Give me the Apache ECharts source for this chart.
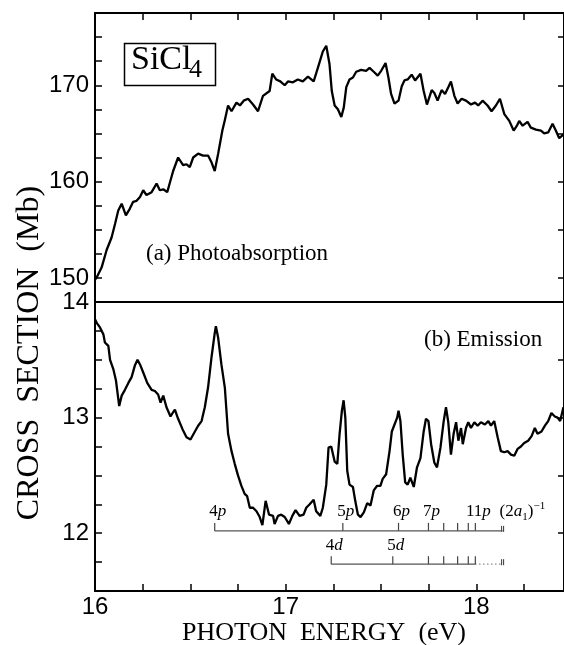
<!DOCTYPE html>
<html>
<head>
<meta charset="utf-8">
<script src="https://cdn.jsdelivr.net/npm/echarts@6/dist/echarts.min.js"></script>
<style>
  html, body { margin: 0; padding: 0; background: #fff; }
  #chart { width: 564px; height: 645px; }
</style>
</head>
<body>
<div id="chart"></div>
<script>
// ---------------- DATA ----------------
// (a) Photoabsorption: photon energy (eV) and cross section (Mb)
const absEnergy = [16.0,16.01,16.035,16.061,16.087,16.105,16.122,16.14,16.162,16.183,16.2,16.218,16.236,16.253,16.27,16.297,16.323,16.34,16.358,16.379,16.393,16.41,16.436,16.462,16.48,16.497,16.515,16.541,16.567,16.593,16.611,16.628,16.646,16.668,16.68,16.698,16.716,16.742,16.76,16.78,16.803,16.829,16.855,16.881,16.916,16.93,16.95,16.972,16.995,17.012,17.038,17.064,17.09,17.117,17.147,17.169,17.195,17.213,17.222,17.23,17.242,17.257,17.274,17.292,17.305,17.318,17.335,17.353,17.37,17.396,17.422,17.44,17.462,17.483,17.501,17.524,17.539,17.553,17.571,17.592,17.609,17.623,17.64,17.661,17.679,17.707,17.724,17.741,17.766,17.78,17.797,17.818,17.836,17.853,17.867,17.885,17.902,17.923,17.946,17.972,17.993,18.01,18.033,18.059,18.08,18.103,18.124,18.147,18.173,18.196,18.213,18.225,18.243,18.269,18.286,18.313,18.339,18.356,18.377,18.4,18.417,18.435,18.457];
const absValue = [149.8,150.1,151.1,152.9,154.2,155.6,157.0,157.7,156.5,157.2,157.9,158.0,158.4,159.1,158.6,158.9,159.8,159.1,159.2,158.9,159.9,161.1,162.5,161.7,161.8,161.5,162.5,162.9,162.7,162.7,162.0,161.1,162.9,165.3,166.3,167.9,167.3,168.2,167.9,168.4,168.6,168.0,167.3,168.9,169.4,171.2,170.6,170.4,170.0,170.4,170.3,170.6,170.4,170.9,170.4,171.8,173.5,174.1,173.9,172.2,169.4,167.9,167.5,166.7,167.7,169.8,170.6,170.8,171.4,171.6,171.5,171.8,171.4,171.0,171.5,172.3,170.8,169.1,168.1,168.4,169.9,170.5,170.6,171.1,170.5,171.2,169.4,168.0,169.5,169.2,168.4,169.5,169.1,169.8,170.4,168.9,168.1,168.6,168.4,168.0,168.2,167.9,168.4,167.9,167.3,167.9,168.6,167.0,166.3,165.3,165.8,166.3,165.8,166.2,165.6,165.4,165.3,165.0,165.1,166.0,165.3,164.5,164.9];

// (b) Emission: photon energy (eV) and cross section (arb.)
const emEnergy = [16.0,16.009,16.026,16.044,16.052,16.07,16.079,16.096,16.11,16.127,16.14,16.157,16.175,16.192,16.209,16.223,16.236,16.253,16.274,16.297,16.314,16.331,16.344,16.358,16.375,16.396,16.419,16.436,16.459,16.48,16.501,16.524,16.541,16.559,16.576,16.593,16.611,16.628,16.634,16.646,16.663,16.681,16.698,16.716,16.733,16.75,16.768,16.785,16.798,16.812,16.829,16.847,16.864,16.878,16.895,16.913,16.934,16.942,16.96,16.977,16.995,17.017,17.035,17.052,17.073,17.094,17.108,17.126,17.147,17.16,17.182,17.195,17.213,17.225,17.239,17.257,17.271,17.283,17.295,17.304,17.313,17.323,17.335,17.353,17.365,17.379,17.393,17.41,17.428,17.445,17.462,17.48,17.497,17.509,17.527,17.545,17.557,17.571,17.585,17.592,17.602,17.614,17.627,17.64,17.654,17.672,17.689,17.707,17.724,17.736,17.749,17.763,17.78,17.794,17.812,17.829,17.841,17.853,17.867,17.881,17.894,17.906,17.92,17.929,17.946,17.958,17.972,17.99,18.007,18.024,18.045,18.063,18.077,18.094,18.112,18.129,18.147,18.164,18.182,18.199,18.217,18.234,18.251,18.272,18.29,18.307,18.321,18.342,18.36,18.377,18.394,18.412,18.426,18.44,18.457];
const emValue = [13.85,13.82,13.78,13.72,13.65,13.62,13.50,13.42,13.32,13.10,13.19,13.24,13.30,13.35,13.45,13.50,13.46,13.39,13.30,13.24,13.23,13.20,13.13,13.19,13.09,13.01,13.07,12.99,12.90,12.83,12.81,12.88,12.93,12.97,13.09,13.26,13.52,13.73,13.79,13.69,13.46,13.26,12.86,12.71,12.60,12.50,12.41,12.34,12.32,12.22,12.22,12.19,12.14,12.07,12.28,12.16,12.15,12.08,12.15,12.16,12.14,12.08,12.15,12.20,12.15,12.16,12.22,12.25,12.29,12.19,12.15,12.22,12.42,12.74,12.75,12.62,12.60,12.86,13.06,13.15,13.00,12.54,12.42,12.40,12.28,12.16,12.14,12.18,12.26,12.24,12.37,12.41,12.41,12.47,12.51,12.71,12.88,12.94,13.00,13.06,12.97,12.68,12.44,12.42,12.48,12.40,12.57,12.65,12.88,12.99,12.97,12.77,12.61,12.57,12.74,12.97,13.09,12.96,12.68,12.86,12.96,12.80,12.91,12.77,12.91,12.96,12.91,12.96,12.93,12.96,12.94,12.97,12.93,12.97,12.83,12.71,12.70,12.71,12.68,12.67,12.73,12.75,12.78,12.80,12.84,12.91,12.86,12.88,12.93,12.97,13.04,13.01,13.00,12.97,13.09];

// Rydberg series assignments (eV)
const pLevels = [16.628,17.300,17.592,17.749,17.829,17.902,17.958,17.995];
const pNums   = ['4','5','6','7','','','','11'];
const dLevels = [17.239,17.562,17.749,17.829,17.902,17.958,17.995];
const dNums   = ['4','5','','','','',''];
const ionLimit = 18.138;       // (2a1)^-1 limit
const pLadderLevel = 12.02;    // height of the p ladder on the emission scale
const dLadderLevel = 11.732;   // height of the d ladder

// axis ticks / labels
const xTickVals   = [16.25,16.5,16.75,17,17.25,17.5,17.75,18,18.25];
const xLabelVals  = [16,17,18];
const yTopTicks   = [150,152.5,155,157.5,160,162.5,165,167.5,170,172.5,175];
const yTopLabels  = [150,160,170];
const yTopRight   = [150,155,160,165,170,175];
const yBotTicks   = [11.75,12,12.25,12.5,12.75,13,13.25,13.5,13.75];
const yBotLabels  = [12,13,14];
const yBotRight   = [12,12.5,13,13.5];

// ---------------- CHART ----------------
const SANS = 'Liberation Sans';
const SERIF = 'Liberation Serif';
const chart = echarts.init(document.getElementById('chart'), null, {renderer: 'canvas'});

const zip = (a, b) => a.map((v, i) => [v, b[i]]);
const lineBlack = {color: '#000', width: 2};

function ladderRender(nums, letter) {
  return function (params, api) {
    const pt = api.coord([api.value(0), api.value(1)]);
    const num = nums[params.dataIndex];
    const children = [{
      type: 'line',
      shape: {x1: pt[0], y1: pt[1], x2: pt[0], y2: pt[1] - 8},
      style: {stroke: '#444', lineWidth: 1.2}
    }];
    if (num) {
      children.push({
        type: 'text',
        x: pt[0] + 3, y: pt[1] - 19,
        style: {
          text: '{n|' + num + '}{i|' + letter + '}',
          align: 'center', verticalAlign: 'middle',
          rich: {
            n: {fontFamily: SERIF, fontSize: 17, fill: '#000'},
            i: {fontFamily: SERIF, fontSize: 17, fontStyle: 'italic', fill: '#000'}
          }
        }
      });
    }
    return {type: 'group', children};
  };
}

function limitRender(withLabel) {
  return function (params, api) {
    const pt = api.coord([api.value(0), api.value(1)]);
    const children = [
      {type: 'line', shape: {x1: pt[0] - 1, y1: pt[1] - 5, x2: pt[0] - 1, y2: pt[1] + 1}, style: {stroke: '#333', lineWidth: 1}},
      {type: 'line', shape: {x1: pt[0] + 1, y1: pt[1] - 5, x2: pt[0] + 1, y2: pt[1] + 1}, style: {stroke: '#333', lineWidth: 1}}
    ];
    if (withLabel) {
      children.push({
        type: 'text', x: pt[0] - 3, y: pt[1] - 19,
        style: {
          text: '{n|(2}{i|a}{sub|1}{n|)}{sup|\u22121}',
          align: 'left', verticalAlign: 'middle',
          rich: {
            n: {fontFamily: SERIF, fontSize: 17, lineHeight: 22, fill: '#000'},
            i: {fontFamily: SERIF, fontSize: 17, lineHeight: 22, fontStyle: 'italic', fill: '#000'},
            sub: {fontFamily: SERIF, fontSize: 11, lineHeight: 11, verticalAlign: 'bottom', fill: '#000'},
            sup: {fontFamily: SERIF, fontSize: 11, lineHeight: 11, verticalAlign: 'top', fill: '#000'}
          }
        }
      });
    }
    return {type: 'group', children};
  };
}

const option = {
  animation: false,
  backgroundColor: '#fff',
  grid: [
    {left: 95, right: 0, top: 13, height: 289},
    {left: 95, right: 0, top: 302, height: 289}
  ],
  xAxis: [
    { // top border of panel (a)
      gridIndex: 0, type: 'value', min: 16, max: 18.46, position: 'top',
      axisLine: {show: true, onZero: false, lineStyle: lineBlack},
      axisTick: {show: true, inside: true, length: 7, customValues: xTickVals, lineStyle: {color: '#000', width: 1.5}},
      axisLabel: {show: false}, splitLine: {show: false}
    },
    { // divider
      gridIndex: 0, type: 'value', min: 16, max: 18.46, position: 'bottom',
      axisLine: {show: true, onZero: false, lineStyle: lineBlack},
      axisTick: {show: false}, axisLabel: {show: false}, splitLine: {show: false}
    },
    { // bottom axis
      gridIndex: 1, type: 'value', min: 16, max: 18.46, position: 'bottom',
      axisLine: {show: true, onZero: false, lineStyle: lineBlack},
      axisTick: {show: true, inside: true, length: 7, customValues: xTickVals, lineStyle: {color: '#000', width: 1.5}},
      axisLabel: {show: true, customValues: xLabelVals, fontFamily: SANS, fontSize: 24, color: '#000', margin: 4},
      splitLine: {show: false}
    }
  ],
  yAxis: [
    {
      gridIndex: 0, type: 'value', min: 147.5, max: 177.5, position: 'left',
      axisLine: {show: true, onZero: false, lineStyle: lineBlack},
      axisTick: {show: true, inside: true, length: 7, customValues: yTopTicks, lineStyle: {color: '#000', width: 1.5}},
      axisLabel: {show: true, customValues: yTopLabels, fontFamily: SANS, fontSize: 24, color: '#000', margin: 6},
      splitLine: {show: false}
    },
    {
      gridIndex: 0, type: 'value', min: 147.5, max: 177.5, position: 'right',
      axisLine: {show: true, onZero: false, lineStyle: lineBlack},
      axisTick: {show: true, inside: true, length: 6, customValues: yTopRight, lineStyle: {color: '#000', width: 1.5}},
      axisLabel: {show: false}, splitLine: {show: false}
    },
    {
      gridIndex: 1, type: 'value', min: 11.5, max: 14, position: 'left',
      axisLine: {show: true, onZero: false, lineStyle: lineBlack},
      axisTick: {show: true, inside: true, length: 7, customValues: yBotTicks, lineStyle: {color: '#000', width: 1.5}},
      axisLabel: {show: true, customValues: yBotLabels, fontFamily: SANS, fontSize: 24, color: '#000', margin: 6},
      splitLine: {show: false}
    },
    {
      gridIndex: 1, type: 'value', min: 11.5, max: 14, position: 'right',
      axisLine: {show: true, onZero: false, lineStyle: lineBlack},
      axisTick: {show: true, inside: true, length: 6, customValues: yBotRight, lineStyle: {color: '#000', width: 1.5}},
      axisLabel: {show: false}, splitLine: {show: false}
    }
  ],
  series: [
    {
      type: 'line', xAxisIndex: 0, yAxisIndex: 0, data: zip(absEnergy, absValue),
      showSymbol: false, symbol: 'none', lineStyle: {color: '#000', width: 2.3}, clip: true
    },
    {
      type: 'line', xAxisIndex: 2, yAxisIndex: 2, data: zip(emEnergy, emValue),
      showSymbol: false, symbol: 'none', lineStyle: {color: '#000', width: 2.3}, clip: true
    },
    { // p ladder baseline
      type: 'line', xAxisIndex: 2, yAxisIndex: 2,
      data: [[pLevels[0], pLadderLevel], [ionLimit, pLadderLevel]],
      showSymbol: false, symbol: 'none', lineStyle: {color: '#555', width: 1.2}
    },
    { // d ladder baseline (solid part)
      type: 'line', xAxisIndex: 2, yAxisIndex: 2,
      data: [[dLevels[0], dLadderLevel], [dLevels[dLevels.length - 1], dLadderLevel]],
      showSymbol: false, symbol: 'none', lineStyle: {color: '#555', width: 1.2}
    },
    { // d ladder baseline (dotted part to limit)
      type: 'line', xAxisIndex: 2, yAxisIndex: 2,
      data: [[dLevels[dLevels.length - 1], dLadderLevel], [ionLimit, dLadderLevel]],
      showSymbol: false, symbol: 'none', lineStyle: {color: '#555', width: 1.2, type: [1, 3]}
    },
    {
      type: 'custom', xAxisIndex: 2, yAxisIndex: 2,
      data: pLevels.map(e => [e, pLadderLevel]),
      renderItem: ladderRender(pNums, 'p'), clip: false
    },
    {
      type: 'custom', xAxisIndex: 2, yAxisIndex: 2,
      data: dLevels.map(e => [e, dLadderLevel]),
      renderItem: ladderRender(dNums, 'd'), clip: false
    },
    {
      type: 'custom', xAxisIndex: 2, yAxisIndex: 2,
      data: [[ionLimit, pLadderLevel]],
      renderItem: limitRender(true), clip: false
    },
    {
      type: 'custom', xAxisIndex: 2, yAxisIndex: 2,
      data: [[ionLimit, dLadderLevel]],
      renderItem: limitRender(false), clip: false
    }
  ],
  graphic: [
    {type: 'rect', left: 122, top: 41, shape: {width: 91, height: 42},
     style: {fill: 'none', stroke: '#000', lineWidth: 1.5}},
    {type: 'text', x: 131, y: 60,
     style: {text: 'SiCl', fontFamily: SERIF, fontSize: 34, fill: '#000', align: 'left', verticalAlign: 'middle'}},
    {type: 'text', x: 189, y: 70,
     style: {text: '4', fontFamily: SERIF, fontSize: 26, fill: '#000', align: 'left', verticalAlign: 'middle'}},
    {type: 'text', x: 146, y: 254,
     style: {text: '(a) Photoabsorption', fontFamily: SERIF, fontSize: 23, fill: '#000', align: 'left', verticalAlign: 'middle'}},
    {type: 'text', x: 424, y: 340,
     style: {text: '(b) Emission', fontFamily: SERIF, fontSize: 23, fill: '#000', align: 'left', verticalAlign: 'middle'}},
    {type: 'text', x: 324, y: 633,
     style: {text: 'PHOTON  ENERGY  (eV)', fontFamily: SERIF, fontSize: 26, fill: '#000', align: 'center', verticalAlign: 'middle'}},
    {type: 'text', x: 30, y: 353, rotation: Math.PI / 2,
     style: {text: 'CROSS  SECTION  (Mb)', fontFamily: SERIF, fontSize: 32, fill: '#000', align: 'center', verticalAlign: 'middle'}}
  ]
};
chart.setOption(option);
</script>
</body>
</html>
